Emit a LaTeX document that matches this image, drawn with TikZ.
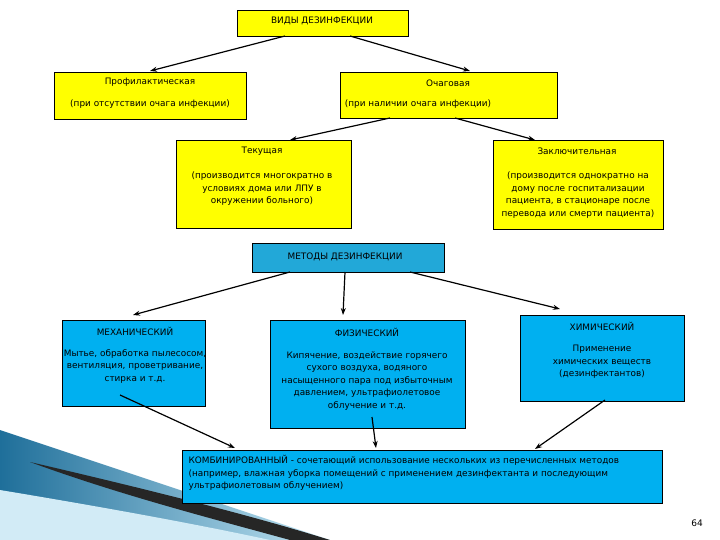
\documentclass[tikz,border=0pt]{standalone}
\usepackage{fontspec}
\setmainfont{DejaVu Sans}
\usetikzlibrary{arrows.meta}
\definecolor{yel}{HTML}{FFFF00}
\definecolor{blu}{HTML}{00B0F0}
\definecolor{met}{HTML}{22A8D8}
\definecolor{sw1}{HTML}{1F6F9A}
\definecolor{sw2}{HTML}{BFE3F2}
\begin{document}
\begin{tikzpicture}[x=1pt,y=-1pt,
 box/.style={draw=black,line width=0.6pt,inner sep=0pt,anchor=north west},
 yb/.style={box,fill=yel},
 bb/.style={box,fill=blu},
 t/.style={font=\fontsize{8.9}{12.5}\selectfont,align=center},
 ar/.style={-{Stealth[length=7pt,width=5pt]},line width=1.2pt}]
\useasboundingbox (0,0) rectangle (720,540);
\fill[white] (0,0) rectangle (720,540);
% swoosh
\shade[left color=sw1,right color=sw2] (0,430) -- (120,470) -- (330,540) -- (0,540) -- cycle;
\fill[sw2!70] (0,490) .. controls (120,510) and (200,525) .. (270,540) -- (0,540) -- cycle;
\fill[black!85] (30,462) .. controls (150,490) and (250,515) .. (330,540) -- (290,540) .. controls (210,518) and (120,495) .. (30,462) -- cycle;
% boxes
\node[yb,minimum width=171pt,minimum height=26pt] (v) at (237,10) {};
\node[t] at (322,21) {ВИДЫ ДЕЗИНФЕКЦИИ};
\node[yb,minimum width=192pt,minimum height=47pt] (p) at (54,72) {};
\node[t] at (150,82) {Профилактическая};
\node[t] at (150,104) {(при отсутствии очага инфекции)};
\node[yb,minimum width=217pt,minimum height=46pt] (o) at (340,72) {};
\node[t] at (448,83) {Очаговая};
\node[t] at (418,104) {(при наличии очага инфекции)};
\node[yb,minimum width=175pt,minimum height=88pt] (te) at (176,140) {};
\node[t] at (262,151) {Текущая};
\node[t] at (262,189) {(производится многократно в\\условиях дома или ЛПУ в\\окружении больного)};
\node[yb,minimum width=170pt,minimum height=89pt] (z) at (493,140) {};
\node[t] at (577,151) {Заключительная};
\node[t] at (578,195) {(производится однократно на\\дому после госпитализации\\пациента, в стационаре после\\перевода или смерти пациента)};
\node[box,fill=met,minimum width=192pt,minimum height=29pt] (m) at (252,243) {};
\node[t] at (345,257) {МЕТОДЫ ДЕЗИНФЕКЦИИ};
\node[bb,minimum width=143pt,minimum height=86pt] (me) at (62,320) {};
\node[t] at (135,331) {МЕХАНИЧЕСКИЙ};
\node[t] at (135,366) {Мытье, обработка пылесосом,\\вентиляция, проветривание,\\стирка и т.д.};
\node[bb,minimum width=195pt,minimum height=108pt] (f) at (270,320) {};
\node[t] at (367,332) {ФИЗИЧЕСКИЙ};
\node[t] at (367,381) {Кипячение, воздействие горячего\\сухого воздуха, водяного\\насыщенного пара под избыточным\\давлением, ультрафиолетовое\\облучение и т.д.};
\node[bb,minimum width=164pt,minimum height=86pt] (h) at (520,315) {};
\node[t] at (602,326) {ХИМИЧЕСКИЙ};
\node[t] at (602,362) {Применение\\химических веществ\\(дезинфектантов)};
\node[bb,minimum width=480pt,minimum height=53pt] (k) at (182,450) {};
\node[t,align=left,anchor=north west] at (185,452) {КОМБИНИРОВАННЫЙ - сочетающий использование нескольких из перечисленных методов\\(например, влажная уборка помещений с применением дезинфектанта и последующим\\ультрафиолетовым облучением)};
\node[font=\fontsize{9}{10}\selectfont] (n) at (697,523) {64};
% arrows
\draw[ar] (285,36) -- (150,71);
\draw[ar] (350,36) -- (470,71);
\draw[ar] (390,118) -- (290,140);
\draw[ar] (455,118) -- (535,140);
\draw[ar] (290,272) -- (133,315);
\draw[ar] (345,272) -- (343,315);
\draw[ar] (410,272) -- (560,309);
\draw[ar] (120,395) -- (235,448);
\draw[ar] (372,417) -- (376,448);
\draw[ar] (605,400) -- (535,449);
\end{tikzpicture}
\end{document}
